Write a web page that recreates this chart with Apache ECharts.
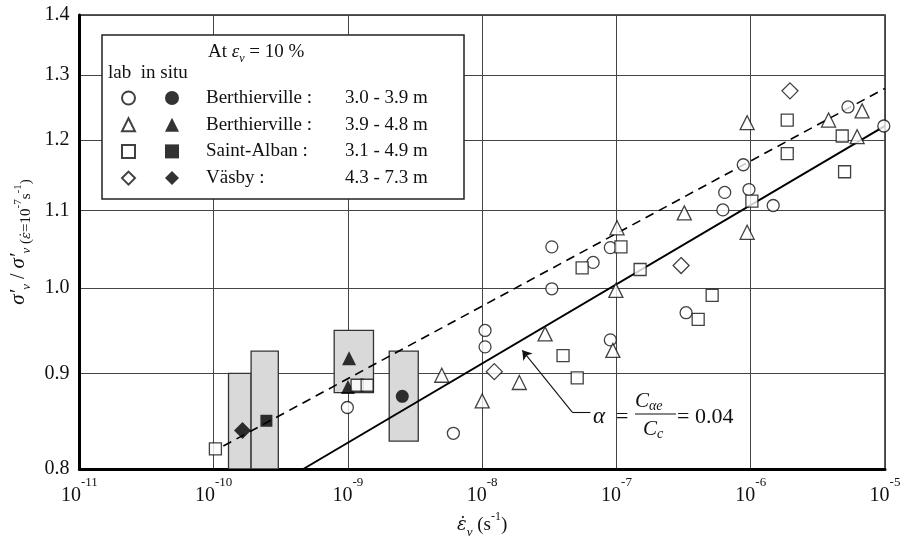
<!DOCTYPE html>
<html>
<head>
<meta charset="utf-8">
<script src="https://cdn.jsdelivr.net/npm/echarts@6/dist/echarts.min.js"></script>
<style>
html,body{margin:0;padding:0;background:#fff;}
#chart{width:907px;height:544px;}
</style>
</head>
<body>
<div id="chart"></div>
<script>
// ---------- data ----------
const yTicks = [0.8, 0.9, 1.0, 1.1, 1.2, 1.3, 1.4];
const xMin = 1e-11, xMax = 1e-5;

const siteNames = ['Berthierville :', 'Berthierville :', 'Saint-Alban :', 'Väsby :'];
const depthRanges = ['3.0 - 3.9 m', '3.9 - 4.8 m', '3.1 - 4.9 m', '4.3 - 7.3 m'];
const labNames = ['lab B 3.0-3.9', 'lab B 3.9-4.8', 'lab SA', 'lab V'];
const situNames = ['situ B 3.0-3.9', 'situ B 3.9-4.8', 'situ SA', 'situ V'];

const labCircleX = [9.9e-10, 1.05e-8, 1.05e-8, 6.1e-9, 3.3e-8, 3.3e-8, 6.7e-8, 9.0e-8, 9.0e-8, 3.3e-7, 6.2e-7, 6.4e-7, 8.8e-7, 9.7e-7, 1.47e-6, 5.3e-6, 9.8e-6];
const labCircleY = [0.863, 0.949, 0.930, 0.836, 1.052, 0.999, 1.032, 1.051, 0.938, 0.970, 1.101, 1.125, 1.164, 1.129, 1.107, 1.250, 1.221];

const labTriX = [5.0e-9, 1.0e-8, 1.89e-8, 2.94e-8, 1.01e-7, 9.9e-8, 9.4e-8, 3.2e-7, 9.4e-7, 9.4e-7, 3.8e-6, 6.2e-6, 6.75e-6];
const labTriY = [0.898, 0.870, 0.890, 0.945, 1.077, 0.997, 0.926, 1.097, 1.226, 1.071, 1.230, 1.205, 1.244];

const labSqX = [1.03e-10, 1.17e-9, 1.39e-9, 5.55e-8, 1.08e-7, 1.5e-7, 4.0e-8, 5.1e-8, 4.06e-7, 5.16e-7, 1.02e-6, 1.87e-6, 1.87e-6, 4.8e-6, 5.0e-6];
const labSqY = [0.820, 0.887, 0.887, 1.025, 1.052, 1.023, 0.920, 0.895, 0.962, 0.991, 1.113, 1.230, 1.180, 1.206, 1.154];

const labDiaX = [1.23e-8, 3.03e-7, 1.96e-6];
const labDiaY = [0.902, 1.028, 1.275];

const situCircleX = [2.54e-9];
const situCircleY = [0.875];
const situTriX = [1.02e-9, 1.0e-9];
const situTriY = [0.917, 0.885];
const situSqX = [2.47e-10];
const situSqY = [0.849];
const situDiaX = [1.64e-10];
const situDiaY = [0.839];

// in-situ ranges (grey boxes)
const boxX0 = [1.29e-10, 1.9e-10, 7.9e-10, 2.03e-9];
const boxX1 = [1.9e-10, 3.03e-10, 1.55e-9, 3.34e-9];
const boxY0 = [0.8, 0.8, 0.879, 0.828];
const boxY1 = [0.900, 0.925, 0.949, 0.925];

// trend lines
const solidX = [4.65e-10, 1e-5];
const solidY = [0.8, 1.221];
const dashedX = [1.18e-10, 1e-5];
const dashedY = [0.823, 1.279];

// annotation arrow (elbow then pointer)
const arrowX = [6.4e-8, 4.68e-8, 1.99e-8];
const arrowY = [0.858, 0.858, 0.926];

// ---------- helpers ----------
const FONT = 'Liberation Serif';
const DOTFONT = 'DejaVu Serif';
const ty = v => Math.log10(v);
const pts = (xs, ys) => xs.map((x, i) => [x, ty(ys[i])]);

const openStyle = {color: '#fff', borderColor: '#111', borderWidth: 1.3};
const fillStyle = {color: '#000', borderColor: '#000', borderWidth: 0};

function scatter(name, xs, ys, symbol, size, style, z) {
  return {
    type: 'scatter', name: name, data: pts(xs, ys), symbol: symbol, symbolSize: size,
    symbolKeepAspect: true,
    itemStyle: style, z: z, silent: true, animation: false
  };
}

const chart = echarts.init(document.getElementById('chart'), null, {renderer: 'canvas'});

const option = {
  backgroundColor: '#fff',
  animation: false,
  grid: {left: 79, right: 22, top: 15, bottom: 71, show: true, borderColor: '#222', borderWidth: 1.5, containLabel: false},
  xAxis: {
    type: 'log', logBase: 10, min: xMin, max: xMax,
    axisLine: {show: true, onZero: false, lineStyle: {color: '#000', width: 3}},
    axisTick: {show: false},
    minorTick: {show: false},
    splitLine: {show: true, lineStyle: {color: '#444', width: 1}},
    axisLabel: {
      margin: 7,
      formatter: v => '{b|10}{s|' + Math.round(Math.log10(v)) + '}',
      rich: {
        b: {fontFamily: FONT, fontSize: 20, color: '#111', lineHeight: 30, verticalAlign: 'bottom'},
        s: {fontFamily: FONT, fontSize: 13, color: '#111', lineHeight: 30, verticalAlign: 'top'}
      }
    },
    name: '{e|ε\u0307}{s|v}{r| (s}{u|-1}{r|)}',
    nameLocation: 'middle', nameGap: 42,
    nameTextStyle: {
      rich: {
        e: {fontFamily: DOTFONT, fontStyle: 'italic', fontSize: 18, color: '#111', lineHeight: 28, verticalAlign: 'middle'},
        s: {fontFamily: FONT, fontStyle: 'italic', fontSize: 13, color: '#111', lineHeight: 28, verticalAlign: 'bottom'},
        r: {fontFamily: FONT, fontSize: 19, color: '#111', lineHeight: 28, verticalAlign: 'middle'},
        u: {fontFamily: FONT, fontSize: 12, color: '#111', lineHeight: 28, verticalAlign: 'top'}
      }
    }
  },
  yAxis: {
    type: 'value', min: ty(0.8), max: ty(1.4),
    axisLine: {show: true, onZero: false, lineStyle: {color: '#000', width: 3}},
    axisTick: {show: false, customValues: yTicks.map(ty)},
    splitLine: {show: true, lineStyle: {color: '#444', width: 1}},
    axisLabel: {
      margin: 10, customValues: yTicks.map(ty),
      formatter: v => Math.pow(10, v).toFixed(1),
      fontFamily: FONT, fontSize: 20, color: '#111'
    },
    name: '{i|σ′}{s|v}{r| / }{i|σ′}{s|v}{p| (}{e|ε\u0307}{p|=10}{u|-7}{p|s}{u|-1}{p|)}',
    nameLocation: 'middle', nameGap: 45, nameRotate: 90,
    nameTextStyle: {
      rich: {
        i: {fontFamily: FONT, fontStyle: 'italic', fontSize: 21, color: '#111', lineHeight: 30, verticalAlign: 'middle'},
        s: {fontFamily: FONT, fontStyle: 'italic', fontSize: 13, color: '#111', lineHeight: 30, verticalAlign: 'bottom'},
        r: {fontFamily: FONT, fontSize: 20, color: '#111', lineHeight: 30, verticalAlign: 'middle'},
        p: {fontFamily: FONT, fontSize: 15, color: '#111', lineHeight: 30, verticalAlign: 'bottom'},
        e: {fontFamily: DOTFONT, fontStyle: 'italic', fontSize: 13, color: '#111', lineHeight: 30, verticalAlign: 'bottom'},
        u: {fontFamily: FONT, fontSize: 11, color: '#111', lineHeight: 30, verticalAlign: 'middle'}
      }
    }
  },
  legend: [
    {
      data: labNames, orient: 'vertical', left: 116, top: 83,
      itemWidth: 13, itemHeight: 13, itemGap: 6.7, selectedMode: false, z: 6,
      symbolKeepAspect: true,
      formatter: () => ' ',
      textStyle: {fontFamily: FONT, fontSize: 19, lineHeight: 20, color: '#111'}
    },
    {
      data: situNames, orient: 'vertical', left: 160, top: 83,
      itemWidth: 14, itemHeight: 14, itemGap: 6.7, selectedMode: false, z: 6,
      symbolKeepAspect: true,
      formatter: name => {
        const k = situNames.indexOf(name);
        return '{a|' + siteNames[k] + '}{b|' + depthRanges[k] + '}';
      },
      textStyle: {
        fontFamily: FONT, fontSize: 19, lineHeight: 20, color: '#111', padding: [0, 0, 0, 22],
        rich: {
          a: {fontFamily: FONT, fontSize: 19, lineHeight: 20, color: '#111', width: 139},
          b: {fontFamily: FONT, fontSize: 19, lineHeight: 20, color: '#111'}
        }
      }
    }
  ],
  graphic: [
    {type: 'rect', z: 5, shape: {x: 102, y: 35, width: 362, height: 164}, style: {fill: '#fff', stroke: '#222', lineWidth: 1.5}},
    {type: 'text', z: 7, x: 208, y: 52, style: {
      text: '{r|At }{i|ε}{s|v}{r| = 10 %}', verticalAlign: 'middle', align: 'left',
      rich: {
        r: {fontFamily: FONT, fontSize: 19, fill: '#111', lineHeight: 26, verticalAlign: 'middle'},
        i: {fontFamily: FONT, fontStyle: 'italic', fontSize: 19, fill: '#111', lineHeight: 26, verticalAlign: 'middle'},
        s: {fontFamily: FONT, fontStyle: 'italic', fontSize: 12, fill: '#111', lineHeight: 26, verticalAlign: 'bottom'}
      }
    }},
    {type: 'text', z: 7, x: 108, y: 73, style: {text: 'lab  in situ', font: '19px "Liberation Serif"', fill: '#111', verticalAlign: 'middle', align: 'left'}},
    // annotation: alpha = C_ae / C_c = 0.04
    {type: 'text', z: 7, x: 593, y: 417, style: {text: 'α', font: 'italic 23px "Liberation Serif"', fill: '#111', verticalAlign: 'middle', align: 'left'}},
    {type: 'text', z: 7, x: 616, y: 417, style: {text: '=', font: '22px "Liberation Serif"', fill: '#111', verticalAlign: 'middle', align: 'left'}},
    {type: 'text', z: 7, x: 635, y: 401, style: {
      text: '{c|C}{s|αe}', verticalAlign: 'middle', align: 'left',
      rich: {
        c: {fontFamily: FONT, fontStyle: 'italic', fontSize: 21, fill: '#111', lineHeight: 24, verticalAlign: 'middle'},
        s: {fontFamily: FONT, fontStyle: 'italic', fontSize: 14, fill: '#111', lineHeight: 24, verticalAlign: 'bottom'}
      }
    }},
    {type: 'line', z: 7, shape: {x1: 635, y1: 414, x2: 676, y2: 414}, style: {stroke: '#111', lineWidth: 1.2}},
    {type: 'text', z: 7, x: 643, y: 429, style: {
      text: '{c|C}{s|c}', verticalAlign: 'middle', align: 'left',
      rich: {
        c: {fontFamily: FONT, fontStyle: 'italic', fontSize: 21, fill: '#111', lineHeight: 24, verticalAlign: 'middle'},
        s: {fontFamily: FONT, fontStyle: 'italic', fontSize: 14, fill: '#111', lineHeight: 24, verticalAlign: 'bottom'}
      }
    }},
    {type: 'text', z: 7, x: 677, y: 417, style: {text: '= 0.04', font: '22px "Liberation Serif"', fill: '#111', verticalAlign: 'middle', align: 'left'}}
  ],
  series: [
    {
      type: 'custom', name: 'in situ range', z: 1, silent: true, animation: false, clip: true,
      encode: {x: [0, 1], y: [2, 3]},
      data: boxX0.map((x0, i) => [x0, boxX1[i], ty(boxY0[i]), ty(boxY1[i])]),
      renderItem: (params, api) => {
        const p0 = api.coord([api.value(0), api.value(2)]);
        const p1 = api.coord([api.value(1), api.value(3)]);
        return {
          type: 'rect',
          shape: {x: p0[0], y: p1[1], width: p1[0] - p0[0], height: p0[1] - p1[1]},
          style: {fill: '#d9d9d9', stroke: '#333', lineWidth: 1.3}
        };
      }
    },
    {
      type: 'line', name: 'alpha fit', data: pts(solidX, solidY), symbol: 'none', z: 2, silent: true,
      lineStyle: {color: '#000', width: 2},
      markLine: {
        silent: true, animation: false, symbolSize: 9, label: {show: false},
        lineStyle: {color: '#111', width: 1.1, type: 'solid'},
        data: [
          [{coord: [arrowX[0], ty(arrowY[0])], symbol: 'none'}, {coord: [arrowX[1], ty(arrowY[1])], symbol: 'none'}],
          [{coord: [arrowX[1], ty(arrowY[1])], symbol: 'none'}, {coord: [arrowX[2], ty(arrowY[2])], symbol: 'arrow'}]
        ]
      }
    },
    {
      type: 'line', name: 'dashed fit', data: pts(dashedX, dashedY), symbol: 'none', z: 2, silent: true,
      lineStyle: {color: '#000', width: 1.6, type: [9, 6]}
    },
    scatter(situNames[0], situCircleX, situCircleY, 'circle', 13, fillStyle, 3),
    scatter(situNames[1], situTriX, situTriY, 'triangle', 14, fillStyle, 3),
    scatter(situNames[2], situSqX, situSqY, 'rect', 12, fillStyle, 3),
    scatter(situNames[3], situDiaX, situDiaY, 'diamond', 17, fillStyle, 3),
    scatter(labNames[0], labCircleX, labCircleY, 'circle', 12, openStyle, 4),
    scatter(labNames[1], labTriX, labTriY, 'triangle', 14, openStyle, 4),
    scatter(labNames[2], labSqX, labSqY, 'rect', 12, openStyle, 4),
    scatter(labNames[3], labDiaX, labDiaY, 'diamond', 16, openStyle, 4)
  ]
};
chart.setOption(option);
</script>
</body>
</html>
